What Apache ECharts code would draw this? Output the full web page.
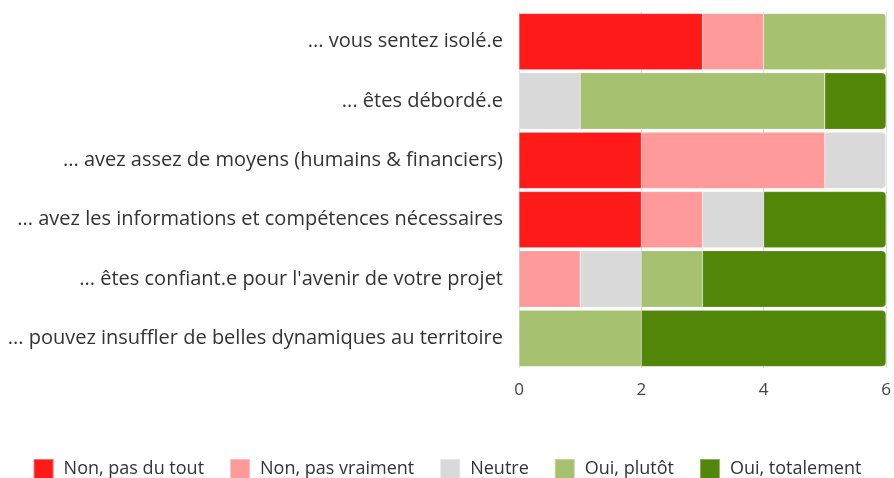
<!DOCTYPE html>
<html>
<head>
<meta charset="utf-8">
<script src="https://cdn.jsdelivr.net/npm/echarts@6/dist/echarts.min.js"></script>
<style>
  html, body { margin: 0; padding: 0; background: #fff; }
  #chart { width: 894px; height: 478px; }
</style>
</head>
<body>
<div id="chart"></div>
<script>
var categories = [
  "... vous sentez isolé.e",
  "... êtes débordé.e",
  "... avez assez de moyens (humains & financiers)",
  "... avez les informations et compétences nécessaires",
  "... êtes confiant.e pour l'avenir de votre projet",
  "... pouvez insuffler de belles dynamiques au territoire"
];
var seriesNames = ["Non, pas du tout", "Non, pas vraiment", "Neutre", "Oui, plutôt", "Oui, totalement"];
var seriesColors = ["#FF1A1A", "#FF9A9A", "#D9D9D9", "#A6C16F", "#528609"];
var nonPasDuTout   = [3, 0, 2, 2, 0, 0];
var nonPasVraiment = [1, 0, 3, 1, 1, 0];
var neutre         = [0, 1, 1, 1, 1, 0];
var ouiPlutot      = [2, 4, 0, 0, 1, 2];
var ouiTotalement  = [0, 1, 0, 2, 3, 4];
var xTicks = [0, 2, 4, 6];

var values = [nonPasDuTout, nonPasVraiment, neutre, ouiPlutot, ouiTotalement];
var fontName = "'Open Sans', sans-serif";

// dernier segment non nul de chaque ligne -> coins arrondis a droite
var lastIdx = categories.map(function (c, i) {
  var last = 0;
  for (var s = 0; s < values.length; s++) { if (values[s][i] > 0) last = s; }
  return last;
});

var series = seriesNames.map(function (name, s) {
  return {
    name: name,
    type: 'bar',
    stack: 'total',
    barCategoryGap: '5%',
    itemStyle: { color: seriesColors[s], borderColor: 'rgba(255,255,255,0.35)', borderWidth: 0.5 },
    data: values[s].map(function (v, i) {
      var item = { value: v };
      if (lastIdx[i] === s) item.itemStyle = { borderRadius: [0, 4, 4, 0] };
      return item;
    })
  };
});

var myChart = echarts.init(document.getElementById('chart'));
myChart.setOption({
  animation: false,
  color: seriesColors,
  grid: { left: 519, right: 8, top: 12, bottom: 110 },
  legend: {
    top: 458,
    left: 'center',
    padding: 0,
    itemWidth: 20,
    itemHeight: 20,
    itemGap: 25,
    icon: 'rect',
    textStyle: { fontFamily: fontName, fontSize: 18, color: '#333', padding: [0, 0, 0, 5] },
    data: seriesNames
  },
  xAxis: {
    type: 'value',
    min: xTicks[0],
    max: xTicks[xTicks.length - 1],
    interval: 2,
    axisLine: { show: false },
    axisTick: { show: false },
    splitLine: { show: true, lineStyle: { color: '#ddd', width: 1 } },
    axisLabel: { fontFamily: fontName, fontSize: 17, color: '#444', margin: 14 }
  },
  yAxis: {
    type: 'category',
    inverse: true,
    data: categories,
    axisLine: { show: false },
    axisTick: { show: false },
    axisLabel: { fontFamily: fontName, fontSize: 20, color: '#333', margin: 16 }
  },
  series: series
});
</script>
</body>
</html>
